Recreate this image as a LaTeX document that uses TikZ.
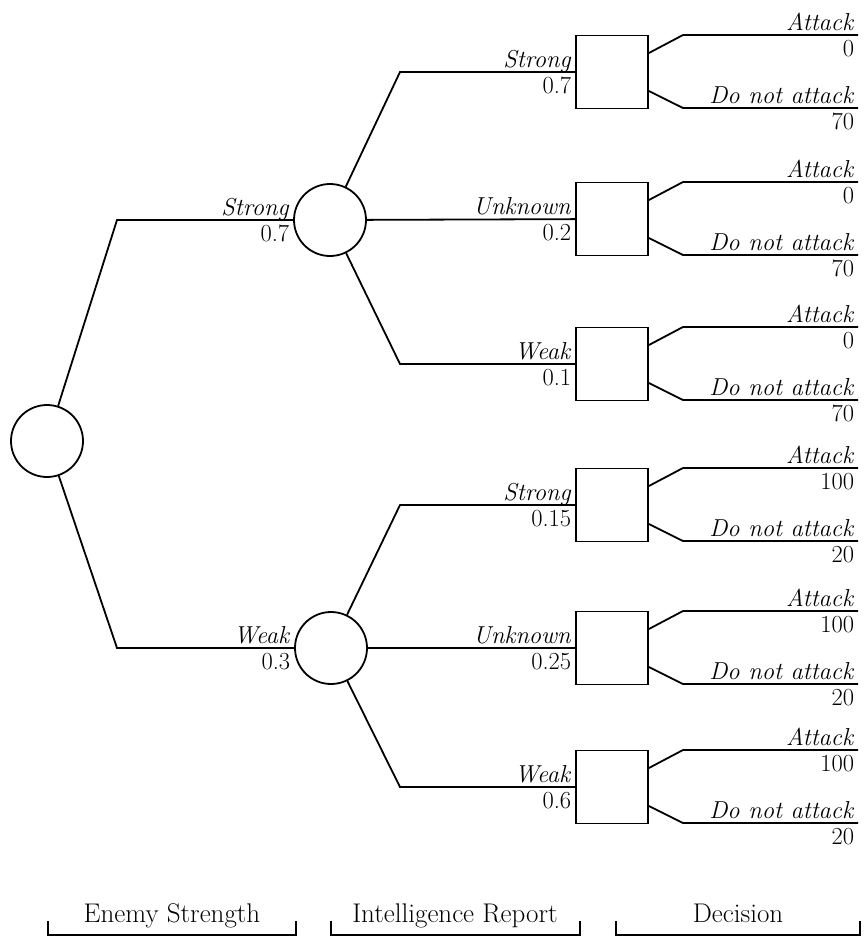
\documentclass[tikz,border=0pt]{standalone}
\usepackage{fontspec}
\usepackage{tikz}

\tikzset{
  chance/.style={circle, draw, minimum size=72pt, inner sep=0pt},
  decision/.style={rectangle, draw, minimum width=72pt, minimum height=73pt, inner sep=0pt},
  above label/.style={anchor=base east, inner xsep=3pt, yshift=5pt},
  below label/.style={anchor=north east, inner xsep=3pt, inner ysep=4pt},
  stage/.style={anchor=base, font=\fontsize{27}{30}\selectfont},
}

\begin{document}
\begin{tikzpicture}[x=1pt, y=-1pt, line width=1.8pt, font=\fontsize{24.5}{28}\selectfont]
	\useasboundingbox (0,0) rectangle (866,937);

	% chance nodes
	\node[chance] (es) at (47,441) {};
	\node[chance] (s) at (330,220) {};
	\node[chance] (w) at (331,648) {};

	% decision nodes
	\node[decision] (ss) at (612,72) {};
	\node[decision] (su) at (612,219) {};
	\node[decision] (sw) at (612,364) {};
	\node[decision] (ws) at (612,505) {};
	\node[decision] (wu) at (612,648) {};
	\node[decision] (ww) at (612,787) {};

	% enemy strength
	\coordinate (es1) at (117,220);
	\coordinate (es2) at (117,648);
	\draw (es) -- (es1) -- (s);
	\draw (es) -- (es2) -- (w);
	\node[above label] at (s.west) {\textit{Strong}};
	\node[below label] at (s.west) {0.7};
	\node[above label] at (w.west) {\textit{Weak}};
	\node[below label] at (w.west) {0.3};

	% intelligence report
	\coordinate (s1) at (400,72);
	\coordinate (s3) at (400,364);
	\coordinate (w1) at (400,505);
	\coordinate (w3) at (400,787);
	\draw (s) -- (s1) -- (ss);
	\draw (s) -- (su);
	\draw (s) -- (s3) -- (sw);
	\draw (w) -- (w1) -- (ws);
	\draw (w) -- (wu);
	\draw (w) -- (w3) -- (ww);

	\node[above label] at (ss.west) {\textit{Strong}};
	\node[below label] at (ss.west) {0.7};
	\node[above label] at (su.west) {\textit{Unknown}};
	\node[below label] at (su.west) {0.2};
	\node[above label] at (sw.west) {\textit{Weak}};
	\node[below label] at (sw.west) {0.1};
	\node[above label] at (ws.west) {\textit{Strong}};
	\node[below label] at (ws.west) {0.15};
	\node[above label] at (wu.west) {\textit{Unknown}};
	\node[below label] at (wu.west) {0.25};
	\node[above label] at (ww.west) {\textit{Weak}};
	\node[below label] at (ww.west) {0.6};

	% decision
	\foreach \n/\y/\a/\b in {ss/72/0/70, su/219/0/70, sw/364/0/70, ws/505/100/20, wu/648/100/20, ww/787/100/20} {
		\coordinate (\n-k1) at (683,\y-37);
		\coordinate (\n-e1) at (858,\y-37);
		\coordinate (\n-k2) at (683,\y+36);
		\coordinate (\n-e2) at (858,\y+36);
		\draw ([yshift=19pt]\n.east) -- (\n-k1) -- (\n-e1);
		\draw ([yshift=-19pt]\n.east) -- (\n-k2) -- (\n-e2);
		\node[above label] at (\n-e1) {\textit{Attack}};
		\node[below label] at (\n-e1) {\a};
		\node[above label] at (\n-e2) {\textit{Do not attack}};
		\node[below label] at (\n-e2) {\b};
	}

	% stages
	\coordinate (a1) at (48,921);
	\coordinate (a2) at (48,935);
	\coordinate (a3) at (296,935);
	\coordinate (a4) at (296,921);
	\coordinate (b1) at (331,921);
	\coordinate (b2) at (331,935);
	\coordinate (b3) at (580,935);
	\coordinate (b4) at (580,921);
	\coordinate (c1) at (616,921);
	\coordinate (c2) at (616,935);
	\coordinate (c3) at (860,935);
	\coordinate (c4) at (860,921);
	\draw[line width=1.3pt] (a1) -- (a2) -- (a3) -- (a4);
	\draw[line width=1.3pt] (b1) -- (b2) -- (b3) -- (b4);
	\draw[line width=1.3pt] (c1) -- (c2) -- (c3) -- (c4);
	\node[stage] (enemy) at (172,922) {Enemy Strength};
	\node[stage] (report) at (455,922) {Intelligence Report};
	\node[stage] (choice) at (738,922) {Decision};
\end{tikzpicture}
\end{document}
